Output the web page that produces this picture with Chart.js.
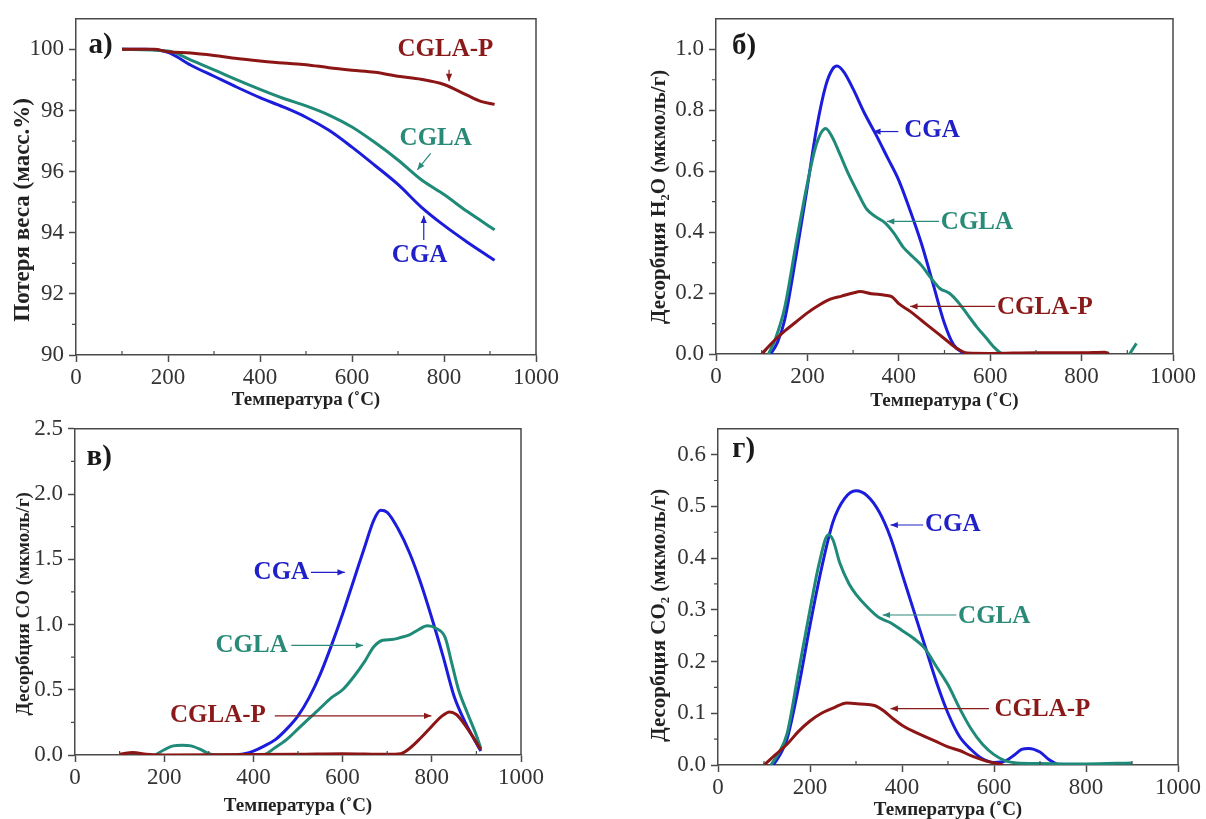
<!DOCTYPE html>
<html><head><meta charset="utf-8">
<script src="https://cdn.jsdelivr.net/npm/chart.js@4.4.1/dist/chart.umd.min.js"></script>
<style>
html,body{margin:0;padding:0;background:#fff;width:1206px;height:819px;overflow:hidden;}
.p{position:absolute;}
canvas{display:block;}
</style></head><body>
<div class="p"><canvas id="ca"></canvas></div>
<div class="p"><canvas id="cb"></canvas></div>
<div class="p"><canvas id="cc"></canvas></div>
<div class="p"><canvas id="cd"></canvas></div>
<script>
// ---------- tick labels ----------
const tempTicks = [0, 200, 400, 600, 800, 1000];
const tempMinor = [100, 300, 500, 700, 900];
const ticksA = [90, 92, 94, 96, 98, 100];
const minorA = [91, 93, 95, 97, 99];
const ticksB = [0, 0.2, 0.4, 0.6, 0.8, 1.0];
const minorB = [0.1, 0.3, 0.5, 0.7, 0.9];
const ticksC = [0, 0.5, 1.0, 1.5, 2.0, 2.5];
const minorC = [0.25, 0.75, 1.25, 1.75, 2.25];
const ticksD = [0, 0.1, 0.2, 0.3, 0.4, 0.5, 0.6];
const minorD = [0.05, 0.15, 0.25, 0.35, 0.45, 0.55];

const seriesNames = ['CGA', 'CGLA', 'CGLA-P'];

// ---------- a) weight loss (%) ----------
const tgaCGA = [[100,100],[150,100],[200,99.9],[250,99.48],[300,99.12],[350,98.76],[400,98.42],[450,98.12],[500,97.78],[550,97.35],[600,96.8],[650,96.2],[700,95.58],[750,94.85],[800,94.24],[850,93.7],[910,93.1]];
const tgaCGLA = [[100,100],[200,99.95],[250,99.65],[300,99.33],[350,99.0],[400,98.69],[450,98.4],[500,98.15],[550,97.85],[600,97.46],[650,96.95],[700,96.38],[750,95.74],[800,95.25],[850,94.7],[910,94.1]];
const tgaCGLAP = [[100,100],[170,100],[200,99.92],[250,99.88],[300,99.8],[350,99.7],[400,99.62],[450,99.55],[500,99.5],[550,99.4],[600,99.32],[650,99.25],[700,99.12],[750,99.02],[800,98.85],[850,98.5],[880,98.3],[910,98.2]];

// ---------- б) H2O desorption ----------
const h2oCGA = [[120,0],[135,0.04],[150,0.11],[175,0.32],[200,0.55],[220,0.74],[240,0.88],[255,0.935],[265,0.945],[280,0.925],[300,0.87],[325,0.79],[350,0.72],[375,0.645],[400,0.57],[425,0.47],[450,0.36],[475,0.23],[500,0.1],[520,0.03],[540,0.005],[550,0],[860,0]];
const h2oCGLA = [[115,0],[130,0.05],[150,0.15],[175,0.36],[200,0.56],[220,0.69],[240,0.74],[255,0.71],[270,0.66],[290,0.59],[310,0.53],[330,0.475],[350,0.45],[370,0.43],[390,0.395],[410,0.35],[430,0.32],[450,0.29],[470,0.25],[490,0.215],[510,0.2],[530,0.17],[550,0.13],[570,0.09],[590,0.055],[610,0.02],[630,0],[860,0.003],[890,null],[905,0],[920,0.035]];
const h2oCGLAP = [[100,0],[125,0.04],[150,0.075],[175,0.105],[200,0.135],[225,0.16],[250,0.18],[275,0.19],[300,0.2],[315,0.205],[340,0.198],[370,0.193],[385,0.188],[400,0.165],[425,0.14],[450,0.11],[475,0.08],[500,0.05],[525,0.02],[550,0.003],[600,0.002],[700,0.004],[800,0.004],[850,0.006],[860,0]];

// ---------- в) CO desorption ----------
const coCGA = [[360,0],[380,0.01],[400,0.03],[425,0.07],[450,0.12],[475,0.2],[500,0.3],[525,0.44],[550,0.62],[575,0.84],[600,1.08],[625,1.34],[650,1.6],[670,1.8],[685,1.875],[700,1.86],[725,1.73],[750,1.55],[775,1.32],[800,1.05],[825,0.76],[850,0.45],[875,0.25],[895,0.12],[910,0.03]];
const coCGLA = [[180,0],[200,0.04],[220,0.07],[240,0.075],[260,0.07],[280,0.045],[300,0.01],[320,0],[420,0],[450,0.06],[475,0.12],[500,0.2],[525,0.28],[550,0.36],[575,0.44],[600,0.5],[625,0.6],[650,0.72],[670,0.83],[690,0.88],[710,0.885],[730,0.9],[750,0.92],[770,0.96],[790,0.99],[810,0.97],[830,0.9],[845,0.7],[860,0.5],[880,0.32],[900,0.15],[910,0.05]];
const coCGLAP = [[100,0.005],[130,0.02],[160,0.005],[200,0],[500,0.005],[600,0.01],[700,0.005],[730,0.01],[750,0.05],[775,0.13],[800,0.22],[820,0.29],[840,0.33],[855,0.31],[870,0.25],[890,0.15],[910,0.04]];

// ---------- г) CO2 desorption ----------
const co2CGA = [[120,0],[135,0.02],[150,0.05],[175,0.15],[200,0.27],[225,0.38],[250,0.47],[275,0.515],[300,0.53],[325,0.52],[350,0.49],[375,0.44],[400,0.37],[425,0.3],[450,0.23],[475,0.16],[500,0.1],[525,0.055],[550,0.03],[575,0.012],[600,0.005],[625,0.008],[645,0.02],[660,0.03],[675,0.032],[700,0.025],[720,0.01],[740,0]];
const co2CGLA = [[115,0],[130,0.02],[150,0.06],[175,0.18],[200,0.3],[220,0.39],[240,0.445],[250,0.435],[265,0.39],[285,0.35],[300,0.33],[325,0.305],[350,0.285],[375,0.275],[400,0.26],[425,0.245],[450,0.225],[475,0.19],[500,0.155],[525,0.11],[550,0.07],[575,0.04],[600,0.02],[625,0.008],[650,0.004],[700,0.003],[800,0.002],[900,0.004]];
const co2CGLAP = [[100,0],[125,0.02],[150,0.04],[175,0.065],[200,0.085],[225,0.1],[250,0.11],[280,0.12],[310,0.118],[340,0.115],[360,0.105],[380,0.09],[400,0.077],[425,0.065],[450,0.055],[475,0.045],[500,0.035],[525,0.028],[550,0.018],[575,0.01],[600,0.004],[620,0]];

// ---------- texts ----------
const xTitle = 'Температура (˚C)';
const yTitleA = 'Потеря веса (масс.%)';
const yTitleB = 'Десорбция H₂O (мкмоль/г)';
const yTitleC = 'Десорбция CO (мкмоль/г)';
const yTitleD = 'Десорбция CO₂ (мкмоль/г)';
const panelLabels = ['а)', 'б)', 'в)', 'г)'];

// ---------- styling ----------
const colors = { 'CGA': '#1c1cdc', 'CGLA': '#1f8a78', 'CGLA-P': '#8c1616' };
const textColors = { 'CGA': '#2020c8', 'CGLA': '#2a8a78', 'CGLA-P': '#8a1a1a' };
const AXIS = '#4a4a4a';
const SERIF = '"Liberation Serif", "Times New Roman", serif';

const framePlugin = {
  id: 'frame',
  afterDraw(chart, args, opts) {
    const { ctx, chartArea: a, scales: { x, y } } = chart;
    ctx.save();
    ctx.strokeStyle = AXIS; ctx.lineWidth = 1.5;
    ctx.beginPath();
    ctx.moveTo(a.left, a.top); ctx.lineTo(a.right, a.top); ctx.lineTo(a.right, a.bottom);
    ctx.stroke();
    // minor ticks
    ctx.lineWidth = 1.2;
    ctx.beginPath();
    opts.xMinor.forEach(v => { const px = x.getPixelForValue(v); ctx.moveTo(px, a.bottom); ctx.lineTo(px, a.bottom - 4); });
    opts.yMinor.forEach(v => { const py = y.getPixelForValue(v); ctx.moveTo(a.left, py); ctx.lineTo(a.left - 4, py); });
    ctx.stroke();
    // panel label
    ctx.fillStyle = '#1a1a1a';
    ctx.font = 'bold 29px ' + SERIF;
    ctx.textBaseline = 'middle'; ctx.textAlign = 'left';
    ctx.fillText(opts.label[0], x.getPixelForValue(opts.label[1]), y.getPixelForValue(opts.label[2]));
    // notes
    ctx.font = 'bold 25px ' + SERIF;
    opts.notes.forEach(n => {
      const c = textColors[n.name];
      ctx.fillStyle = c; ctx.strokeStyle = c;
      ctx.textAlign = n.align;
      ctx.fillText(n.name, x.getPixelForValue(n.at[0]), y.getPixelForValue(n.at[1]));
      const x1 = x.getPixelForValue(n.arrow[0]), y1 = y.getPixelForValue(n.arrow[1]);
      const x2 = x.getPixelForValue(n.arrow[2]), y2 = y.getPixelForValue(n.arrow[3]);
      ctx.lineWidth = 1.2;
      ctx.beginPath(); ctx.moveTo(x1, y1); ctx.lineTo(x2, y2); ctx.stroke();
      const ang = Math.atan2(y2 - y1, x2 - x1), L = 8, W = 0.4;
      ctx.beginPath();
      ctx.moveTo(x2, y2);
      ctx.lineTo(x2 - L * Math.cos(ang - W), y2 - L * Math.sin(ang - W));
      ctx.lineTo(x2 - L * Math.cos(ang + W), y2 - L * Math.sin(ang + W));
      ctx.closePath(); ctx.fill();
    });
    ctx.restore();
  }
};

function pts(arr) { return arr.map(([x, y]) => ({ x, y })); }

function makePanel(id, geo, cfg) {
  const canvas = document.getElementById(id);
  const wrap = canvas.parentNode;
  wrap.style.left = geo.canvas.x + 'px'; wrap.style.top = geo.canvas.y + 'px';
  canvas.width = geo.canvas.w; canvas.height = geo.canvas.h;
  canvas.style.width = geo.canvas.w + 'px'; canvas.style.height = geo.canvas.h + 'px';
  const xTitleFont = 19, yTitleFont = cfg.yTitleFont;
  // trailing no-break spaces move the centred vertical title down the axis
  const nbsp = Math.round(2 * cfg.yTitleShift / (0.25 * yTitleFont));
  const grid = { display: true, drawOnChartArea: false, drawTicks: true, tickLength: 7, tickColor: AXIS, tickWidth: 1.5, color: AXIS };
  const border = { display: true, color: AXIS, width: 1.5 };
  new Chart(canvas, {
    type: 'line',
    data: {
      datasets: cfg.series.map((s, i) => ({
        label: seriesNames[i], data: pts(s), borderColor: colors[seriesNames[i]],
        borderWidth: 3, pointRadius: 0, tension: 0.4, cubicInterpolationMode: 'monotone',
        fill: false, spanGaps: false
      })).reverse()
    },
    options: {
      responsive: false, animation: false, devicePixelRatio: 1,
      layout: { padding: { left: 0, top: geo.plot.t - geo.canvas.y, right: geo.canvas.x + geo.canvas.w - geo.plot.r, bottom: 0 } },
      plugins: {
        legend: { display: false }, tooltip: { enabled: false },
        frame: { xMinor: tempMinor, yMinor: cfg.yMinor, notes: cfg.notes, label: cfg.label }
      },
      scales: {
        x: {
          type: 'linear', min: 0, max: 1000,
          afterBuildTicks: s => { s.ticks = tempTicks.map(v => ({ value: v })); },
          afterFit: s => { s.height = geo.canvas.y + geo.canvas.h - geo.plot.b; },
          grid, border,
          ticks: { color: '#333', padding: 2, maxRotation: 0, font: { family: SERIF, size: 23 }, callback: v => String(v) },
          title: { display: true, text: xTitle, color: '#222', font: { family: SERIF, size: xTitleFont, weight: 'bold' },
                   padding: { top: 0, bottom: geo.canvas.y + geo.canvas.h - geo.xTitleY - xTitleFont * 0.6 } }
        },
        y: {
          type: 'linear', min: cfg.yMin, max: cfg.yMax,
          afterBuildTicks: s => { s.ticks = cfg.yTicks.map(v => ({ value: v })); },
          afterFit: s => { s.width = geo.plot.l - geo.canvas.x; },
          grid, border,
          ticks: { color: '#333', padding: 5, font: { family: SERIF, size: 23 }, callback: cfg.fmt },
          title: { display: true, text: cfg.yTitle + '\u00A0'.repeat(nbsp), color: '#222', font: { family: SERIF, size: yTitleFont, weight: 'bold' },
                   padding: { top: geo.yTitleX - geo.canvas.x - yTitleFont * 0.6, bottom: 0 } }
        }
      }
    },
    plugins: [framePlugin]
  });
}

makePanel('ca',
  { canvas: { x: 0, y: 0, w: 580, h: 420 }, plot: { l: 76, t: 14, r: 536, b: 355 }, xTitleY: 400, yTitleX: 23 },
  { series: [tgaCGA, tgaCGLA, tgaCGLAP], yMin: 90, yMax: 101, yTicks: ticksA, yMinor: minorA, yTitle: yTitleA,
    yTitleFont: 23, yTitleShift: 24,
    fmt: v => String(v), label: [panelLabels[0], 27, 100.14],
    notes: [
      { name: 'CGLA-P', align: 'center', at: [803, 100.0], arrow: [811, 99.33, 811, 98.96] },
      { name: 'CGLA', align: 'center', at: [782, 97.08], arrow: [771, 96.6, 742, 96.06] },
      { name: 'CGA', align: 'center', at: [747, 93.27], arrow: [756, 93.76, 756, 94.56] }
    ] });

makePanel('cb',
  { canvas: { x: 600, y: 0, w: 606, h: 420 }, plot: { l: 716, t: 15, r: 1173, b: 354 }, xTitleY: 401, yTitleX: 660 },
  { series: [h2oCGA, h2oCGLA, h2oCGLAP], yMin: 0, yMax: 1.1, yTicks: ticksB, yMinor: minorB, yTitle: yTitleB,
    yTitleFont: 21, yTitleShift: 10,
    fmt: v => v.toFixed(1), label: [panelLabels[1], 35, 1.008],
    notes: [
      { name: 'CGA', align: 'left', at: [412, 0.732], arrow: [399, 0.73, 344, 0.73] },
      { name: 'CGLA', align: 'left', at: [492, 0.43], arrow: [488, 0.435, 374, 0.435] },
      { name: 'CGLA-P', align: 'left', at: [615, 0.154], arrow: [611, 0.156, 425, 0.156] }
    ] });

makePanel('cc',
  { canvas: { x: 0, y: 410, w: 580, h: 409 }, plot: { l: 75, t: 425, r: 521, b: 755 }, xTitleY: 806, yTitleX: 24 },
  { series: [coCGA, coCGLA, coCGLAP], yMin: 0, yMax: 2.5, yTicks: ticksC, yMinor: minorC, yTitle: yTitleC,
    yTitleFont: 19, yTitleShift: 13,
    fmt: v => v.toFixed(1), label: [panelLabels[2], 26, 2.28],
    notes: [
      { name: 'CGA', align: 'right', at: [525, 1.40], arrow: [529, 1.40, 605, 1.40] },
      { name: 'CGLA', align: 'right', at: [477, 0.84], arrow: [485, 0.84, 646, 0.84] },
      { name: 'CGLA-P', align: 'right', at: [428, 0.30], arrow: [448, 0.30, 799, 0.30] }
    ] });

makePanel('cd',
  { canvas: { x: 600, y: 410, w: 606, h: 409 }, plot: { l: 718, t: 422, r: 1178, b: 765 }, xTitleY: 810, yTitleX: 660 },
  { series: [co2CGA, co2CGLA, co2CGLAP], yMin: 0, yMax: 0.65, yTicks: ticksD, yMinor: minorD, yTitle: yTitleD,
    yTitleFont: 21, yTitleShift: 18,
    fmt: v => v.toFixed(1), label: [panelLabels[3], 31, 0.61],
    notes: [
      { name: 'CGA', align: 'left', at: [450, 0.464], arrow: [446, 0.464, 375, 0.464] },
      { name: 'CGLA', align: 'left', at: [522, 0.287], arrow: [518, 0.29, 358, 0.29] },
      { name: 'CGLA-P', align: 'left', at: [601, 0.107], arrow: [589, 0.109, 375, 0.109] }
    ] });
</script>
</body></html>
